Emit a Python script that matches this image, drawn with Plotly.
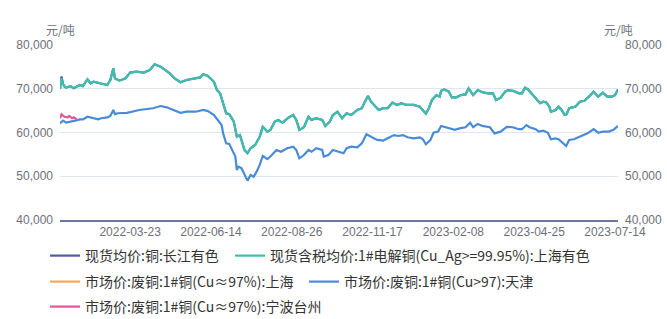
import plotly.graph_objects as go

# ---------------- data ----------------
cn_dates = ["2022-01-11","2022-01-12","2022-01-13","2022-01-14","2022-01-17","2022-01-20","2022-01-24","2022-01-26","2022-01-28",
    "2022-02-08","2022-02-11","2022-02-15","2022-02-17","2022-02-23","2022-03-02","2022-03-04","2022-03-08","2022-03-09",
    "2022-03-14","2022-03-18","2022-03-23","2022-03-29","2022-04-07","2022-04-13","2022-04-18","2022-04-22","2022-04-27",
    "2022-05-05","2022-05-10","2022-05-16","2022-05-20","2022-05-26","2022-06-02","2022-06-07","2022-06-10","2022-06-16",
    "2022-06-20","2022-06-22","2022-06-24","2022-06-28","2022-06-30","2022-07-05","2022-07-07","2022-07-11","2022-07-12",
    "2022-07-14","2022-07-18","2022-07-20","2022-07-25","2022-07-28","2022-08-01","2022-08-04","2022-08-08","2022-08-11",
    "2022-08-15","2022-08-18","2022-08-24","2022-08-29","2022-08-31","2022-09-02","2022-09-07","2022-09-13","2022-09-15",
    "2022-09-20","2022-09-26","2022-09-28","2022-10-10","2022-10-12","2022-10-17","2022-10-20","2022-10-25","2022-10-28",
    "2022-11-03","2022-11-08","2022-11-10","2022-11-14","2022-11-16","2022-11-23","2022-11-28","2022-12-01","2022-12-06",
    "2022-12-09","2022-12-14","2022-12-19","2022-12-26","2022-12-30","2023-01-06","2023-01-10","2023-01-12","2023-01-17",
    "2023-01-19","2023-01-20","2023-01-31","2023-02-03","2023-02-07","2023-02-10","2023-02-15","2023-02-20","2023-02-22",
    "2023-02-27","2023-03-02","2023-03-08","2023-03-13","2023-03-16","2023-03-20","2023-03-23","2023-03-28","2023-03-30",
    "2023-04-04","2023-04-11","2023-04-13","2023-04-17","2023-04-19","2023-04-24","2023-04-27","2023-05-04","2023-05-08",
    "2023-05-10","2023-05-12","2023-05-15","2023-05-18","2023-05-22","2023-05-24","2023-05-26","2023-05-29","2023-05-31",
    "2023-06-06","2023-06-09","2023-06-14","2023-06-20","2023-06-26","2023-06-29","2023-07-04","2023-07-07","2023-07-12",
    "2023-07-14","2023-07-18"]

changjiang_vals = [70000,72800,71100,70500,70300,70600,70100,70500,70850,
    70600,72150,71250,71600,71250,70850,72000,74700,72400,
    71850,72400,73700,73900,73700,74300,75600,75050,74300,
    73500,72400,71500,72000,72300,72600,73300,72900,71600,
    69700,68950,66700,64400,64200,62500,59050,59400,58300,
    56000,55250,56400,57150,59050,61300,60200,60600,62500,
    62850,62250,63450,64000,62850,60600,61200,63600,62850,
    63250,62850,61500,62500,64000,64750,63250,64400,64000,
    65150,65550,67050,68350,67050,65150,65550,65550,66850,
    66300,66700,66300,66300,65900,64300,65600,67450,68550,
    68200,69550,69850,69350,68050,68050,68550,68700,70100,
    68550,69700,69100,68950,68950,67450,67950,69350,69700,
    69550,68950,68950,70250,69850,68550,67450,66700,67050,
    66850,65900,64750,65150,65900,65150,64000,64000,65550,
    65900,67050,67250,68550,69350,68200,69100,68200,68200,
    68550,69850]

smm_vals = [70000,72400,71000,70500,70300,70600,70100,70500,70850,
    70600,72150,71250,71600,71250,70850,72000,74700,72400,
    71850,72400,73700,73900,73700,74300,75600,75050,74300,
    73500,72400,71500,72000,72300,72600,73300,72900,71600,
    69700,68950,66700,64400,64200,62500,59050,59400,58300,
    56000,55250,56400,57150,59050,61300,60200,60600,62500,
    62850,62250,63450,64000,62850,60600,61200,63600,62850,
    63250,62850,61500,62500,64000,64750,63250,64400,64000,
    65150,65550,67050,68350,67050,65150,65550,65550,66850,
    66300,66700,66300,66300,65900,64300,65600,67450,68550,
    68200,69550,69850,69350,68050,68050,68550,68700,70100,
    68550,69700,69100,68950,68950,67450,67950,69350,69700,
    69550,68950,68950,70250,69850,68550,67450,66700,67050,
    66850,65900,64750,65150,65900,65150,64000,64000,65550,
    65900,67050,67250,68550,69350,68200,69100,68200,68200,
    68550,69850]

tj_dates = ["2022-01-11","2022-01-13","2022-01-17","2022-01-21","2022-01-25","2022-01-28","2022-02-08","2022-02-11","2022-02-15",
    "2022-02-17","2022-02-22","2022-02-24","2022-03-02","2022-03-04","2022-03-08","2022-03-09","2022-03-11","2022-03-21",
    "2022-03-31","2022-04-15","2022-04-22","2022-04-28","2022-05-16","2022-05-20","2022-05-30","2022-06-07","2022-06-10",
    "2022-06-16","2022-06-21","2022-06-23","2022-06-24","2022-06-28","2022-06-30","2022-07-04","2022-07-06","2022-07-07",
    "2022-07-08","2022-07-12","2022-07-14","2022-07-18","2022-07-20","2022-07-22","2022-07-26","2022-07-28","2022-08-01",
    "2022-08-04","2022-08-08","2022-08-10","2022-08-12","2022-08-17","2022-08-23","2022-08-29","2022-08-31","2022-09-02",
    "2022-09-07","2022-09-13","2022-09-15","2022-09-20","2022-09-26","2022-09-27","2022-09-30","2022-10-12","2022-10-17",
    "2022-10-21","2022-10-25","2022-10-28","2022-11-03","2022-11-08","2022-11-11","2022-11-16","2022-11-22","2022-11-28",
    "2022-12-01","2022-12-07","2022-12-12","2022-12-15","2022-12-20","2022-12-26","2022-12-30","2023-01-04","2023-01-06",
    "2023-01-11","2023-01-13","2023-01-18","2023-01-20","2023-01-31","2023-02-06","2023-02-09","2023-02-14","2023-02-20",
    "2023-02-23","2023-02-27","2023-03-02","2023-03-07","2023-03-14","2023-03-17","2023-03-23","2023-03-29","2023-04-04",
    "2023-04-11","2023-04-13","2023-04-18","2023-04-20","2023-04-26","2023-04-28","2023-05-08","2023-05-11","2023-05-15",
    "2023-05-18","2023-05-22","2023-05-25","2023-05-29","2023-05-31","2023-06-05","2023-06-08","2023-06-13","2023-06-16",
    "2023-06-26","2023-06-29","2023-07-04","2023-07-10","2023-07-13","2023-07-18"]

tj_vals = [62100,62700,62250,62500,62700,63000,63000,63600,63450,
    63250,63000,63250,63450,63800,65150,64200,64400,64500,
    65150,65550,66050,65750,64500,64750,64750,65150,64900,
    64000,62500,61700,59800,57550,57400,56000,54500,51450,
    52200,51850,50300,49000,50300,49900,51050,52600,54650,
    53900,54500,55250,56000,55600,56400,56750,56000,54100,
    54850,56000,55600,56400,56000,54500,54850,56000,55600,
    55250,56400,56750,56600,57550,59600,59050,58300,58150,
    58650,59400,59200,59400,58900,58650,58900,58450,57300,
    58300,59950,60200,61500,61300,60750,60600,60950,61200,
    62250,61200,61950,61500,61200,59800,60200,61300,61200,
    60750,60750,61700,61200,60750,60200,60400,59950,58450,
    58650,58450,57550,56900,58300,58450,58900,59400,59800,
    60750,59950,60200,60200,60600,61500]

nb_dates = ["2022-01-11","2022-01-12","2022-01-14","2022-01-18","2022-01-19","2022-01-21","2022-01-24","2022-01-26"]
nb_vals = [63250,64150,63600,63450,63800,63250,63450,63000]

# Shanghai scrap series: no value visible in the shown window
sh_scrap_dates = ["2022-01-11"]
sh_scrap_vals = [None]

tick_dates = ["2022-03-23","2022-06-14","2022-08-26","2022-11-17","2023-02-08","2023-04-25","2023-07-14"]
holidays = ["2022-01-31","2022-02-01","2022-02-02","2022-02-03","2022-02-04","2022-04-04","2022-04-05",
    "2022-05-02","2022-05-03","2022-05-04","2022-06-03","2022-09-12","2022-10-03","2022-10-04","2022-10-05",
    "2022-10-06","2022-10-07","2023-01-02","2023-01-23","2023-01-24","2023-01-25","2023-01-26","2023-01-27",
    "2023-04-05","2023-05-01","2023-05-02","2023-05-03","2023-06-22","2023-06-23"]

names = ["现货均价:铜:长江有色",
         "现货含税均价:1#电解铜(Cu_Ag>=99.95%):上海有色",
         "市场价:废铜:1#铜(Cu≈97%):上海",
         "市场价:废铜:1#铜(Cu>97):天津",
         "市场价:废铜:1#铜(Cu≈97%):宁波台州"]
colors = ["#4f5aa5", "#3dbfac", "#f6a85b", "#4a8bd8", "#e2559a"]

# ---------------- figure ----------------
W, H = 667, 319
fig = go.Figure()
series = [(cn_dates, changjiang_vals), (cn_dates, smm_vals), (sh_scrap_dates, sh_scrap_vals),
          (tj_dates, tj_vals), (nb_dates, nb_vals)]
legend_ids = ["legend", "legend2", "legend3", "legend4", "legend5"]
yaxes = ["y", "y", "y", "y", "y2"]
for i, (xs, ys) in enumerate(series):
    fig.add_trace(go.Scatter(x=xs, y=ys, mode="lines", name=names[i],
                             line=dict(color=colors[i], width=2.2),
                             legend=legend_ids[i], yaxis=yaxes[i],
                             hoverinfo="skip"))

font_cjk = "Noto Sans CJK SC, Noto Sans, sans-serif"
axis_font = dict(family="Liberation Sans, Noto Sans CJK SC, sans-serif", size=12, color="#6E7079")

def leg(px_x, px_y):
    return dict(orientation="h", xref="container", yref="container",
                x=px_x / W, y=1 - px_y / H, xanchor="left", yanchor="middle",
                bgcolor="rgba(0,0,0,0)", itemwidth=30,
                font=dict(family=font_cjk, size=14, color="#333333"))

fig.update_layout(
    width=W, height=H,
    margin=dict(l=60, r=49, t=45, b=99, autoexpand=False),
    paper_bgcolor="white", plot_bgcolor="white",
    showlegend=True,
    legend=leg(45, 256), legend2=leg(230, 256),
    legend3=leg(45, 282), legend4=leg(304, 282),
    legend5=leg(45, 307),
    xaxis=dict(type="date", range=["2022-01-11", "2023-07-18"],
               rangebreaks=[dict(bounds=["sat", "mon"]), dict(values=holidays)],
               tickvals=tick_dates, ticktext=tick_dates,
               showgrid=False, zeroline=False, showline=True,
               linecolor="#70739c", linewidth=2, ticks="",
               tickfont=axis_font, ticklabelstandoff=0),
    yaxis=dict(range=[40000, 80000], dtick=10000, tickformat=",d",
               showgrid=True, gridcolor="#E0E6F1", gridwidth=1,
               zeroline=False, showline=False, ticks="",
               tickfont=axis_font, ticklabelstandoff=6),
    yaxis2=dict(range=[40000, 80000], dtick=10000, tickformat=",d",
                overlaying="y", side="right", showgrid=False,
                zeroline=False, showline=False, ticks="",
                tickfont=axis_font, ticklabelstandoff=6),
    annotations=[
        dict(text="元/吨", xref="paper", yref="paper", x=0, y=1 + 16 / 175,
             xanchor="center", yanchor="middle", showarrow=False,
             font=dict(family=font_cjk, size=12, color="#6E7079")),
        dict(text="元/吨", xref="paper", yref="paper", x=1, y=1 + 16 / 175,
             xanchor="center", yanchor="middle", showarrow=False,
             font=dict(family=font_cjk, size=12, color="#6E7079")),
    ],
)

fig.write_html("out.html")
